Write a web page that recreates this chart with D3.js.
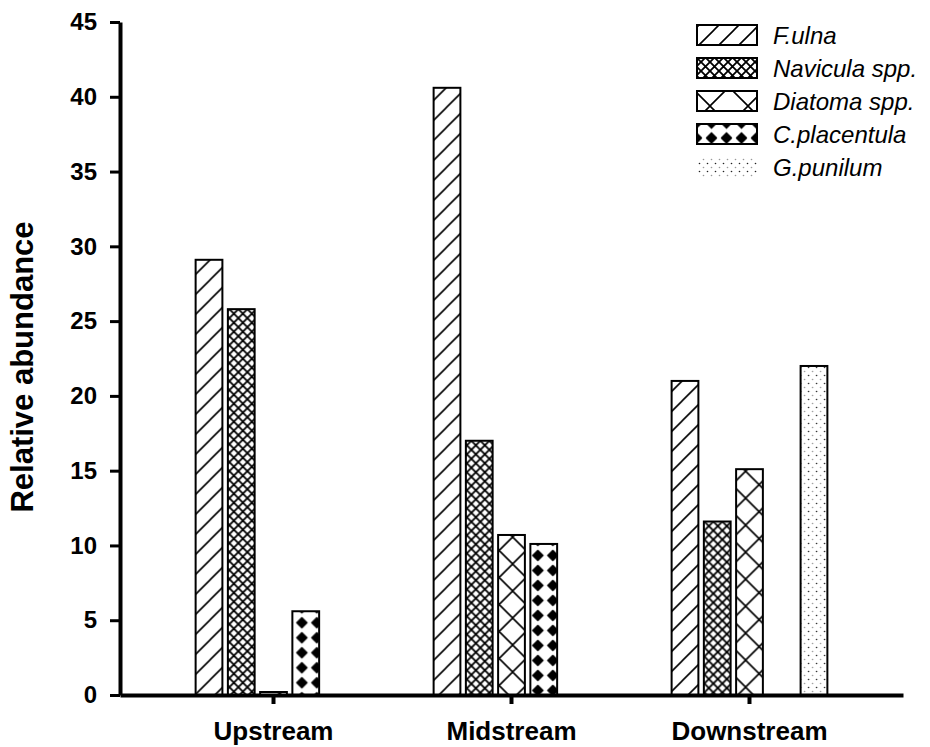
<!DOCTYPE html>
<meta charset="utf-8">
<body style="margin:0; padding:0; background:#fff;">
<script src="https://cdn.jsdelivr.net/npm/d3@7"></script>
<script>

    const sites = ["Upstream", "Midstream", "Downstream"];
    const species = ["F.ulna", "Navicula spp.", "Diatoma spp.", "C.placentula", "G.punilum"];
    const fUlna = [29.1, 40.6, 21.0];
    const navicula = [25.8, 17.0, 11.6];
    const diatoma = [0.2, 10.7, 15.1];
    const cPlacentula = [5.6, 10.1, 0];
    const gPunilum = [0, 0, 22.0];
    const yTicks = [0, 5, 10, 15, 20, 25, 30, 35, 40, 45];

    const series = [fUlna, navicula, diatoma, cPlacentula, gPunilum];
    const kinds = ["hatch", "cross", "bigx", "diamond", "dots"];
    const rows = sites.map((s, i) => ({site: s, values: series.map(v => v[i])}));

    const width = 930, height = 747;
    const font = "Arial, 'Liberation Sans', sans-serif";

    const svg = d3.select("body").append("svg")
      .attr("width", width)
      .attr("height", height);
    const defs = svg.append("defs");

    const y = d3.scaleLinear().domain([0, 45]).range([695, 22]);
    const x0 = d3.scaleBand().domain(sites).range([120, 903]).paddingInner(0).paddingOuter(0.145);
    const x1 = d3.scaleBand().domain(species).range([0, x0.bandwidth()]).paddingInner(0.17).paddingOuter(1.275);

    let patCount = 0;
    // one pattern per shape so the tiles line up with each bar
    function addPattern(kind, ox, oy, big) {
      const id = "p" + (patCount++);
      const p = defs.append("pattern").attr("id", id)
        .attr("patternUnits", "userSpaceOnUse")
        .attr("x", ox).attr("y", oy);
      p.append("rect").attr("width", 60).attr("height", 60).attr("fill", "#fff");
      if (kind === "hatch") {
        p.attr("width", 20).attr("height", 20);
        p.append("path").attr("d", "M-5,5L5,-5M0,20L20,0M15,25L25,15")
          .attr("stroke", "#000").attr("stroke-width", 1.6);
      } else if (kind === "cross") {
        p.attr("width", 9).attr("height", 9);
        p.append("path").attr("d", "M0,0L9,9M9,0L0,9")
          .attr("stroke", "#000").attr("stroke-width", 1.8);
      } else if (kind === "bigx") {
        const s = big || 27;
        p.attr("width", s).attr("height", s);
        p.append("path").attr("d", `M0,0L${s},${s}M${s},0L0,${s}`)
          .attr("stroke", "#000").attr("stroke-width", 1.6);
      } else if (kind === "diamond") {
        p.attr("width", 15).attr("height", 15);
        p.append("path").attr("d", "M7.5,2.5L12.5,7.5L7.5,12.5L2.5,7.5Z")
          .attr("fill", "#000").attr("stroke", "#000").attr("stroke-width", 1.5).attr("stroke-linejoin", "round");
      } else {
        p.attr("width", 8).attr("height", 8);
        p.append("circle").attr("cx", 1.5).attr("cy", 1.5).attr("r", 0.8).attr("fill", "#222");
        p.append("circle").attr("cx", 5.5).attr("cy", 5.5).attr("r", 0.8).attr("fill", "#999");
      }
      return "url(#" + id + ")";
    }

    function patternOrigin(kind, bx, by) {
      if (kind === "bigx") return [bx, by + 2];
      if (kind === "diamond") return [bx - 2.5, by + 4];
      return [bx, by];
    }

    // bars
    const groups = svg.append("g").selectAll("g")
      .data(rows)
      .enter().append("g")
      .attr("transform", d => `translate(${x0(d.site)},0)`);

    groups.each(function(d) {
      const g = d3.select(this);
      const gx = x0(d.site);
      d.values.forEach((v, k) => {
        if (v <= 0) return;
        const bx = x1(species[k]);
        const by = y(v);
        const o = patternOrigin(kinds[k], gx + bx, by);
        g.append("rect")
          .attr("x", bx)
          .attr("y", by)
          .attr("width", x1.bandwidth())
          .attr("height", y(0) - by)
          .attr("fill", addPattern(kinds[k], o[0], o[1]))
          .attr("stroke", "#000")
          .attr("stroke-width", 2);
      });
    });

    // axes
    const yAxis = svg.append("g")
      .attr("transform", "translate(120,0)")
      .call(d3.axisLeft(y).tickValues(yTicks).tickSize(10).tickSizeOuter(0).tickPadding(13));
    yAxis.select(".domain").attr("stroke-width", 4);
    yAxis.selectAll(".tick line").attr("stroke-width", 3);
    yAxis.selectAll("text")
      .style("font-family", font).style("font-weight", "bold").style("font-size", "24px");

    const xAxis = svg.append("g")
      .attr("transform", "translate(0,695)")
      .call(d3.axisBottom(x0).tickSize(9).tickSizeOuter(0).tickPadding(18));
    xAxis.select(".domain").attr("stroke-width", 4);
    xAxis.selectAll(".tick line").attr("stroke-width", 4);
    xAxis.selectAll("text")
      .style("font-family", font).style("font-weight", "bold").style("font-size", "26px");

    svg.append("text")
      .attr("transform", "translate(33,367) rotate(-90)")
      .attr("text-anchor", "middle")
      .style("font-family", font).style("font-weight", "bold").style("font-size", "31px")
      .text("Relative abundance");

    // legend
    const legend = svg.append("g").selectAll("g")
      .data(species)
      .enter().append("g")
      .attr("transform", (d, i) => `translate(697,${25 + i * 33})`);

    legend.each(function(d, i) {
      const g = d3.select(this);
      const top = 25 + i * 33;
      const o = kinds[i] === "diamond" ? [697, top + 2.5] : [697, top];
      g.append("rect")
        .attr("width", 60).attr("height", 20)
        .attr("fill", addPattern(kinds[i], o[0], o[1], 38))
        .attr("stroke", kinds[i] === "dots" ? "none" : "#000")
        .attr("stroke-width", 2);
      g.append("text")
        .attr("x", 76).attr("y", 10).attr("dy", "0.36em")
        .style("font-family", font).style("font-style", "italic").style("font-size", "24px")
        .text(d);
    });
</script>
